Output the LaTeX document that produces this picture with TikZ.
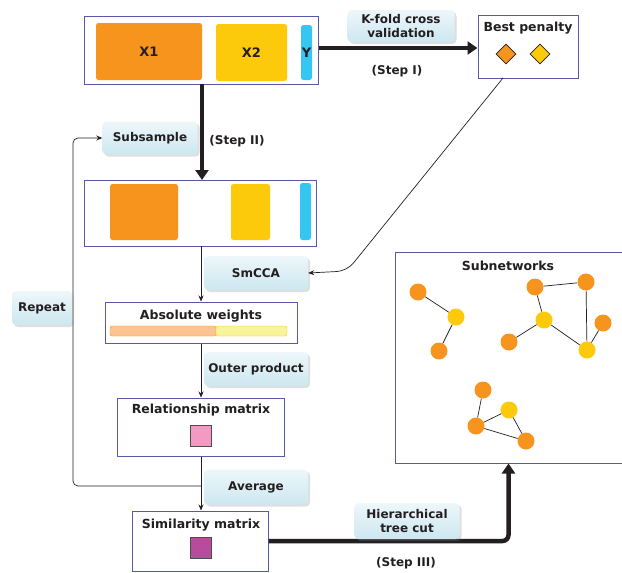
\documentclass[tikz,border=0pt]{standalone}
\usepackage{fontspec}
\setmainfont{DejaVu Sans}
\usetikzlibrary{shadows,arrows.meta,shapes.geometric}
\definecolor{frame}{HTML}{5858A8}
\definecolor{orng}{HTML}{F7941E}
\definecolor{yell}{HTML}{FDC90B}
\definecolor{cyan2}{HTML}{35C6F2}
\definecolor{lorng}{HTML}{FDC492}
\definecolor{lyell}{HTML}{F8F49C}
\definecolor{pink2}{HTML}{F49AC2}
\definecolor{purp}{HTML}{B64C9B}
\definecolor{tagtop}{HTML}{EDF7FA}
\definecolor{tagbot}{HTML}{CDE7F0}
\definecolor{ink}{HTML}{231F20}
\begin{document}
\begin{tikzpicture}[x=1pt,y=-1pt,
  box/.style={draw=frame,line width=1pt,fill=white,inner sep=0pt},
  blk/.style={rounded corners=2.5pt,inner sep=0pt,font=\bfseries\fontsize{13}{13}\selectfont,text=ink},
  tag/.style={rounded corners=4pt,top color=tagtop,bottom color=tagbot,draw=none,
    drop shadow={opacity=0.25,shadow xshift=2pt,shadow yshift=-2pt},
    font=\bfseries\fontsize{12}{14}\selectfont,text=ink,align=center,inner sep=0pt},
  ttl/.style={font=\bfseries\fontsize{12.5}{13}\selectfont,text=ink,inner sep=0pt},
  steplbl/.style={font=\bfseries\fontsize{12}{13}\selectfont,text=ink,inner sep=0pt},
  thick arrow/.style={line width=4.5pt,-{Triangle[length=10pt,width=13pt]},draw=ink},
  thin arrow/.style={line width=0.7pt,-{Stealth[length=6pt,width=5pt]},draw=ink},
  nd/.style={circle,minimum size=17pt,inner sep=0pt},
  ed/.style={line width=0.7pt,draw=ink}
]
\useasboundingbox (0,0) rectangle (622,573);

% top data box
\node[box,minimum width=234pt,minimum height=68pt] (top) at (201,50) {};
\node[blk,fill=orng,minimum width=106pt,minimum height=57pt] (x1) at (149,51.5) {X1};
\node[blk,fill=yell,minimum width=71pt,minimum height=57pt] (x2) at (251.5,52.5) {X2};
\node[blk,fill=cyan2,minimum width=11pt,minimum height=55pt] (y) at (306.5,52.5) {Y};

% best penalty
\node[box,minimum width=100pt,minimum height=63pt] (bp) at (528,46.5) {};
\node[ttl] (bpt) at (528,28) {Best penalty};
\node[diamond,draw=ink,line width=0.6pt,fill=orng,minimum size=20pt,inner sep=0pt] (d1) at (506,54) {};
\node[diamond,draw=ink,line width=0.6pt,fill=yell,minimum size=20pt,inner sep=0pt] (d2) at (540,54) {};

\draw[thick arrow] (top.east |- 0,48) -- (bp.west |- 0,48);
\node[tag,minimum width=107pt,minimum height=32pt] (kfold) at (401,26) {K-fold cross\\validation};
\node[steplbl] (s1) at (397,71) {(Step I)};

% second box
\node[box,minimum width=232pt,minimum height=66pt] (sec) at (200,213) {};
\node[blk,fill=orng,minimum width=68pt,minimum height=56pt] (o2) at (144,212) {};
\node[blk,fill=yell,minimum width=39pt,minimum height=56pt] (y2) at (250.5,212) {};
\node[blk,fill=cyan2,minimum width=11pt,minimum height=57pt] (c2) at (305.5,211.5) {};

\draw[thick arrow] (202,84) -- (202,180);
\node[tag,minimum width=95pt,minimum height=33pt] (sub) at (150,138) {Subsample};
\node[steplbl] (s2) at (237,141) {(Step II)};

% absolute weights
\node[box,minimum width=192pt,minimum height=41pt] (abs) at (201,322.5) {};
\node[ttl] (abst) at (201,316) {Absolute weights};
\node[draw=orng,fill=lorng,rounded corners=2pt,minimum width=106pt,minimum height=10pt,inner sep=0pt] (bar1) at (163,331) {};
\node[draw=yell,fill=lyell,rounded corners=2pt,minimum width=71pt,minimum height=10pt,inner sep=0pt] (bar2) at (251.5,331) {};

\draw[thin arrow] (201,246) -- (abs.north -| 201,0);
\node[tag,minimum width=104pt,minimum height=34pt] (smcca) at (256,273) {SmCCA};

% relationship matrix
\node[box,minimum width=167pt,minimum height=58pt] (rel) at (200.5,427) {};
\node[ttl] (relt) at (201,410) {Relationship matrix};
\node[draw=ink!80,line width=0.6pt,fill=pink2,minimum size=21pt,inner sep=0pt] (pk) at (201,435.5) {};

\draw[thin arrow] (abs.south -| 201,0) -- (rel.north -| 201,0);
\node[tag,minimum width=104pt,minimum height=34pt] (outer) at (256,369) {Outer product};

% similarity matrix
\node[box,minimum width=136pt,minimum height=60pt] (sim) at (200,541) {};
\node[ttl] (simt) at (201,525) {Similarity matrix};
\node[draw=ink!80,line width=0.6pt,fill=purp,minimum size=21pt,inner sep=0pt] (pp) at (201,548) {};

\draw[thin arrow] (rel.south -| 201,0) -- (sim.north -| 201,0);
\coordinate (loopstart) at (201,486);
\draw[line width=0.7pt,draw=ink,rounded corners=5pt,-{Stealth[length=6pt,width=5pt]}] (loopstart) -- (73,486) -- (73,138) -- (sub.west);
\node[tag,minimum width=104pt,minimum height=35pt] (avg) at (256,487) {Average};
\node[tag,minimum width=60pt,minimum height=34pt] (rep) at (42,308) {Repeat};

% best penalty -> smcca
\coordinate (bpout) at (503,78);
\draw[line width=0.7pt,draw=ink,rounded corners=10pt,-{Stealth[length=6pt,width=5pt]}] (bpout) -- (347,271) -- (smcca.east);

% subnetworks
\node[box,minimum width=227pt,minimum height=211pt] (subnet) at (508.5,357.5) {};
\node[ttl] (subt) at (508,266) {Subnetworks};
\node[nd,fill=orng] (a1) at (418,292) {};
\node[nd,fill=yell] (a2) at (456,317) {};
\node[nd,fill=orng] (a3) at (439,351) {};
\node[nd,fill=orng] (b1) at (535,287) {};
\node[nd,fill=orng] (b2) at (586,282) {};
\node[nd,fill=yell] (b3) at (544,320) {};
\node[nd,fill=orng] (b4) at (509,342) {};
\node[nd,fill=orng] (b5) at (603,323) {};
\node[nd,fill=yell] (b6) at (587,350) {};
\node[nd,fill=orng] (c1) at (483,390) {};
\node[nd,fill=yell] (c2) at (509,410) {};
\node[nd,fill=orng] (c3) at (476,426) {};
\node[nd,fill=orng] (c4) at (526,441) {};
\draw[ed] (a1) -- (a2) (a2) -- (a3);
\draw[ed] (b1) -- (b2) (b1) -- (b3) (b2) -- (b6) (b3) -- (b4) (b3) -- (b6) (b5) -- (b6);
\draw[ed] (c1) -- (c3) (c3) -- (c2) (c2) -- (c4) (c3) -- (c4);

% step III
\draw[line width=4.5pt,draw=ink,rounded corners=6pt,-{Triangle[length=10pt,width=13pt]}] (sim.east) -| (subnet.south);
\node[tag,minimum width=105pt,minimum height=36pt] (hier) at (407,521) {Hierarchical\\tree cut};
\node[steplbl] (s3) at (406,563) {(Step III)};
\end{tikzpicture}
\end{document}
